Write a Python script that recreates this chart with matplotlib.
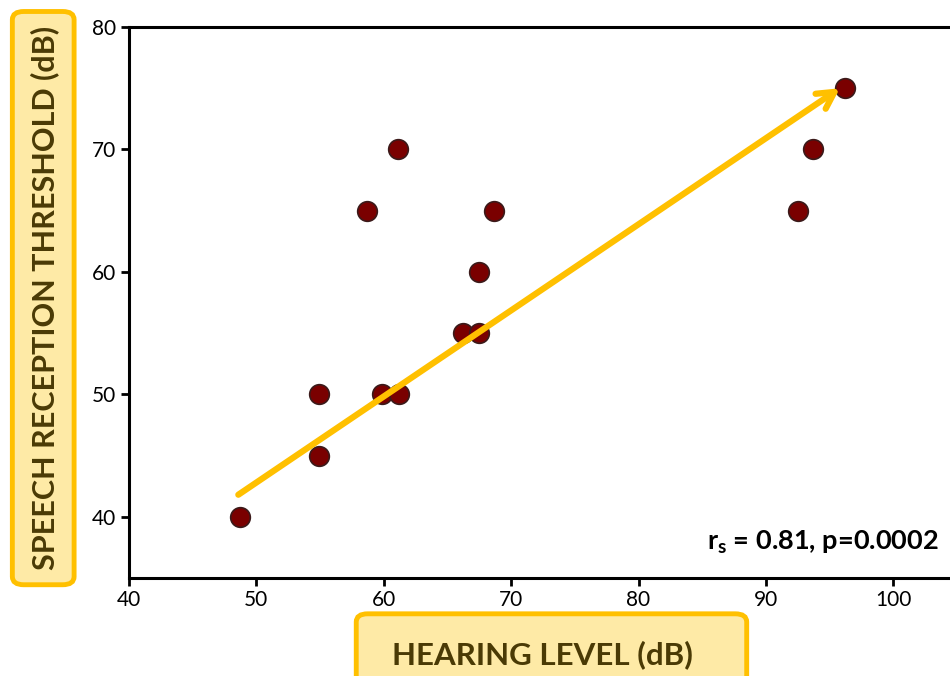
import matplotlib
matplotlib.use('Agg')
import matplotlib.pyplot as plt
from matplotlib.patches import FancyBboxPatch

plt.rcParams['font.family'] = ['Lato', 'DejaVu Sans']
plt.rcParams['mathtext.fontset'] = 'custom'
plt.rcParams['mathtext.rm'] = 'Lato'
plt.rcParams['mathtext.bf'] = 'Lato:bold'

# Data
hearing_level = [48.7, 54.9, 54.9, 58.7, 59.9, 61.2, 61.1, 66.2, 67.5, 67.5, 68.7, 92.5, 93.7, 96.2]
srt = [40, 50, 45, 65, 50, 50, 70, 55, 55, 60, 65, 65, 70, 75]
x_ticks = [40, 50, 60, 70, 80, 90, 100]
y_ticks = [40, 50, 60, 70, 80]
trend_start = (48.6, 41.8)
trend_end = (95.8, 75.0)

yellow = '#FFC000'
box_fill = '#FEEAA6'
label_colour = '#4A3A05'
dot_colour = '#7A0000'

fig = plt.figure(figsize=(9.5, 6.76), dpi=100)
ax = fig.add_axes([0.1355, 0.145, 0.872, 0.815])

ax.scatter(hearing_level, srt, s=200, color=dot_colour, edgecolor='#3B1A1A',
           linewidth=1.2, zorder=3)

ax.annotate('', xy=trend_end, xytext=trend_start,
            arrowprops=dict(arrowstyle='->,head_length=1.2,head_width=0.65',
                            color=yellow, lw=4.5, shrinkA=0, shrinkB=0),
            zorder=4)

ax.set_xlim(40, 105)
ax.set_ylim(35, 80)
ax.set_xticks(x_ticks)
ax.set_yticks(y_ticks)
for side in ['left', 'bottom', 'top', 'right']:
    ax.spines[side].set_linewidth(2.2)
ax.tick_params(direction='out', length=6, width=2, labelsize=15, pad=3)

ax.text(0.978, 0.052, r'$\mathbf{r_s}$ = 0.81, p=0.0002', transform=ax.transAxes,
        ha='right', va='baseline', fontsize=19.5, fontweight='bold')

# Highlighted axis label boxes
ybox = FancyBboxPatch((0.013, 0.135), 0.065, 0.848, boxstyle='round,pad=0,rounding_size=0.012',
                      transform=fig.transFigure, facecolor=box_fill, edgecolor=yellow,
                      linewidth=3.5, clip_on=False)
fig.patches.append(ybox)
fig.text(0.047, 0.559, 'SPEECH RECEPTION THRESHOLD (dB)', rotation=90, ha='center', va='center',
         fontsize=22, fontweight='bold', color=label_colour)

xbox = FancyBboxPatch((0.375, -0.03), 0.411, 0.122, boxstyle='round,pad=0,rounding_size=0.012',
                      transform=fig.transFigure, facecolor=box_fill, edgecolor=yellow,
                      linewidth=3.5, clip_on=False)
fig.patches.append(xbox)
fig.text(0.571, 0.031, 'HEARING LEVEL (dB)', ha='center', va='center',
         fontsize=22.5, fontweight='bold', color=label_colour)

fig.savefig('out.png', dpi=100, facecolor='white')
